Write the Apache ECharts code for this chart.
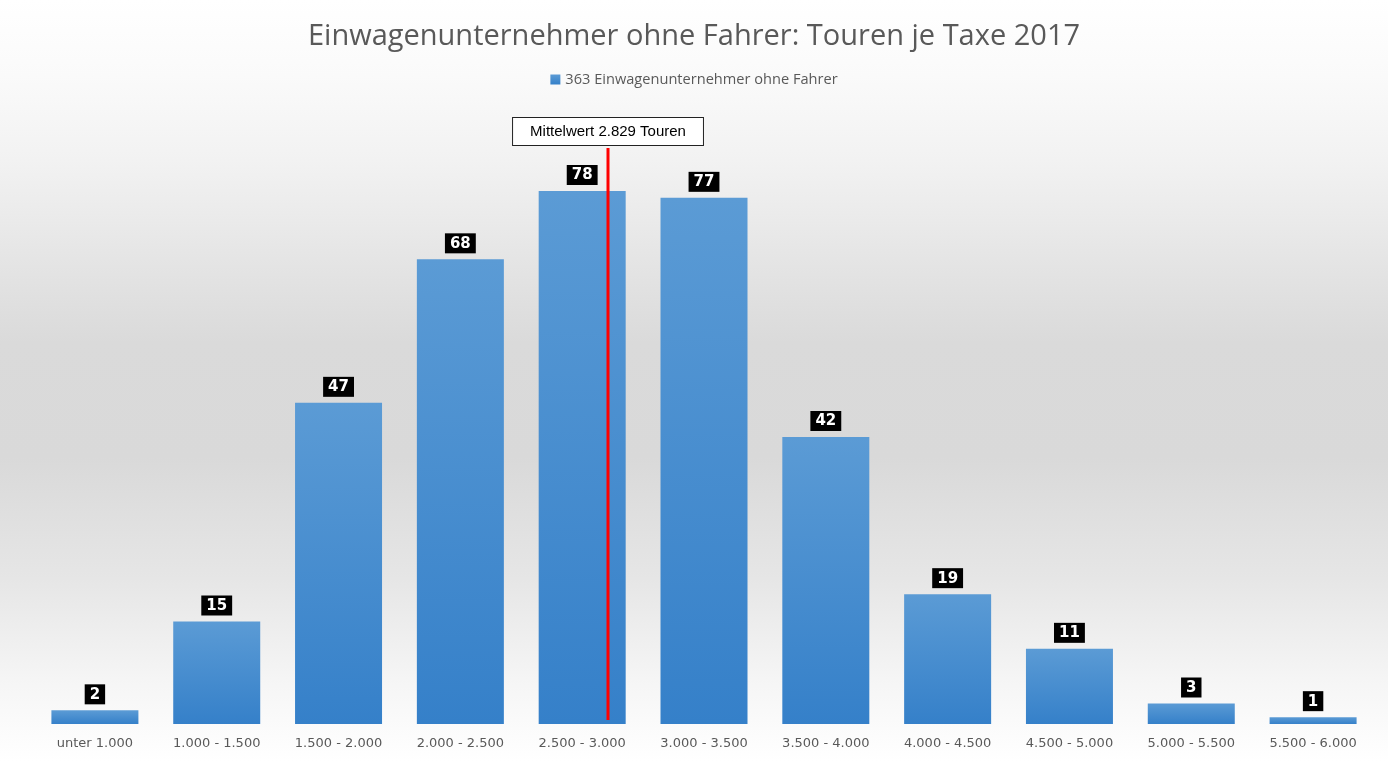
<!DOCTYPE html>
<html><head><meta charset="utf-8">
<script src="https://cdn.jsdelivr.net/npm/echarts@6/dist/echarts.min.js"></script>
<style>html,body{margin:0;padding:0;background:#fff}#c{width:1388px;height:762px}</style>
</head><body><div id="c"></div>
<script>
const titleText = 'Einwagenunternehmer ohne Fahrer: Touren je Taxe 2017';
const seriesName = '363 Einwagenunternehmer ohne Fahrer';
const categories = ['unter 1.000','1.000 - 1.500','1.500 - 2.000','2.000 - 2.500','2.500 - 3.000','3.000 - 3.500','3.500 - 4.000','4.000 - 4.500','4.500 - 5.000','5.000 - 5.500','5.500 - 6.000'];
const counts = [2, 15, 47, 68, 78, 77, 42, 19, 11, 3, 1];
const meanLabel = 'Mittelwert 2.829 Touren';
// position of the drawn mean line (Touren)
const meanLinePosition = 2856;
const meanLineRange = [0.6, 84.3];

const chart = echarts.init(document.getElementById('c'));
chart.setOption({
  animation: false,
  backgroundColor: new echarts.graphic.LinearGradient(0,0,0,1,[
    {offset:0,color:'#ffffff'},{offset:0.1,color:'#fafafa'},{offset:0.21,color:'#f2f2f2'},
    {offset:0.45,color:'#dadada'},{offset:0.6,color:'#d9d9d9'},{offset:0.76,color:'#e6e6e6'},
    {offset:0.9,color:'#f6f6f6'},{offset:1,color:'#ffffff'}]),
  title: {text: titleText, left: 'center', top: 17,
    textStyle: {fontFamily: 'Open Sans', fontSize: 29, fontWeight: 'normal', color: '#595959'}},
  legend: {data: [seriesName], top: 67, left: 'center', itemWidth: 10, itemHeight: 10, itemGap: 4,
    icon: 'rect', textStyle: {fontFamily: 'Open Sans', fontSize: 14.6, color: '#595959'}},
  grid: {left: 34, right: 14, top: 109, bottom: 38},
  xAxis: [
    {type: 'category', data: categories, axisLine: {show: false}, axisTick: {show: false},
     axisLabel: {fontFamily: 'DejaVu Sans', fontSize: 13, color: '#595959', margin: 13}},
    {type: 'value', min: 500, max: 6000, show: false}
  ],
  yAxis: {type: 'value', min: 0, max: 90, show: false, splitLine: {show: false}},
  series: [
    {name: seriesName, type: 'bar', data: counts, barWidth: 87, xAxisIndex: 0,
     itemStyle: {color: new echarts.graphic.LinearGradient(0,0,0,1,[
        {offset:0,color:'#5b9bd5'},{offset:1,color:'#3580c9'}])},
     label: {show: true, position: 'top', distance: 6, backgroundColor: '#000', color: '#fff',
        fontFamily: 'DejaVu Sans', fontWeight: 'bold', fontSize: 15, padding: [3,5,2,5]}},
    {type: 'line', xAxisIndex: 1, symbol: 'none', silent: true,
     data: [[meanLinePosition, meanLineRange[0]], [meanLinePosition, meanLineRange[1]]],
     lineStyle: {color: '#ff0000', width: 3},
     markPoint: {symbol: 'rect', symbolSize: 0,
       data: [{coord: [meanLinePosition, meanLineRange[1]],
         label: {show: true, position: 'top', distance: 3, formatter: meanLabel,
           fontFamily: 'Liberation Sans', fontSize: 15, color: '#000', backgroundColor: '#fff',
           borderColor: '#222', borderWidth: 1, padding: [6, 17, 6, 17]}}]}}
  ]
});
</script></body></html>
